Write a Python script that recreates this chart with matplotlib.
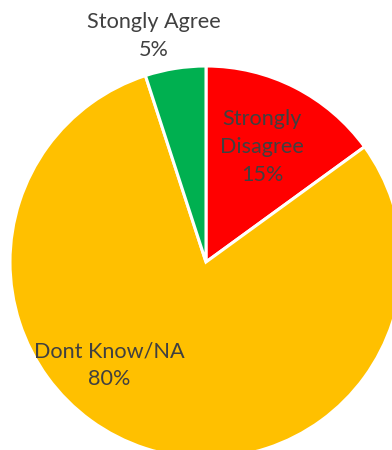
import matplotlib
matplotlib.use("Agg")
import matplotlib.pyplot as plt

# Survey responses
categories = ["Strongly\nDisagree", "Dont Know/NA", "Stongly Agree"]
shares = [15, 80, 5]
colors = ["#FF0000", "#FFC000", "#00B050"]

W, H = 392, 450
fig = plt.figure(figsize=(W / 100, H / 100), dpi=100)
ax = fig.add_axes([0, 0, 1, 1])

cx, cy, r = 206, H - 262, 196
ax.pie(shares, colors=colors, startangle=90, counterclock=False,
       center=(cx, cy), radius=r, frame=True,
       wedgeprops=dict(edgecolor="white", linewidth=2.2))
ax.set_xlim(0, W)
ax.set_ylim(0, H)
ax.set_aspect("equal")
ax.axis("off")

label_pos = [(262, H - 147), (109, H - 365), (154, H - 36)]
for name, val, (x, y) in zip(categories, shares, label_pos):
    ax.text(x, y, f"{name}\n{val}%", ha="center", va="center",
            fontsize=15.6, family="Lato", color="#404040", linespacing=1.5)

fig.savefig("out.png", dpi=100)
